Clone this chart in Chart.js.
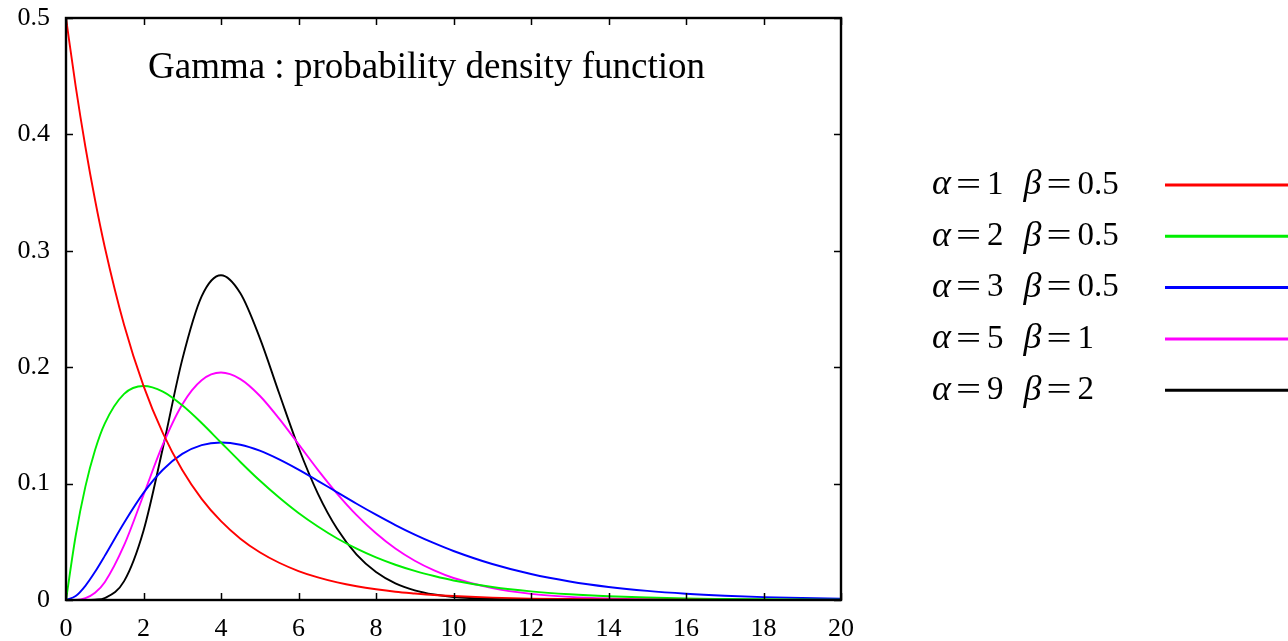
<!DOCTYPE html>
<html>
<head>
<meta charset="utf-8">
<script src="https://cdn.jsdelivr.net/npm/chart.js@4/dist/chart.umd.min.js"></script>
<style>
  html, body { margin: 0; padding: 0; background: #fff; }
  #wrap { width: 1288px; height: 641px; }
</style>
</head>
<body>
<div id="wrap"><canvas id="gammaChart" width="1288" height="641"></canvas></div>
<script>
// values
var xValues = [0, 0.25, 0.5, 0.75, 1, 1.5, 2, 2.5, 3, 3.5, 4, 4.5, 5, 5.5, 6, 6.5, 7, 7.5, 8, 8.5, 9, 9.5, 10,
  11, 12, 13, 14, 15, 16, 17, 18, 19, 20];

var redVals = [0.5, 0.4412, 0.3894, 0.3436, 0.3033, 0.2362, 0.1839, 0.1433, 0.1116, 0.0869, 0.0677, 0.0527, 0.0410,
  0.0320, 0.0249, 0.0194, 0.0151, 0.0118, 0.0092, 0.0071, 0.0056, 0.0043, 0.0034,
  0.0020, 0.0012, 0.0008, 0.0005, 0.0003, 0.0002, 0.0001, 0.0001, 0.0000, 0.0000];
var greenVals = [0, 0.0552, 0.0974, 0.1289, 0.1516, 0.1771, 0.1839, 0.1791, 0.1673, 0.1521, 0.1353, 0.1186, 0.1026,
  0.0880, 0.0747, 0.0631, 0.0528, 0.0441, 0.0366, 0.0303, 0.0250, 0.0206, 0.0168,
  0.0112, 0.0074, 0.0049, 0.0032, 0.0021, 0.0013, 0.0009, 0.0006, 0.0004, 0.0002];
var blueVals = [0, 0.0034, 0.0122, 0.0242, 0.0379, 0.0664, 0.0920, 0.1119, 0.1255, 0.1331, 0.1353, 0.1334, 0.1283,
  0.1208, 0.1120, 0.1024, 0.0925, 0.0827, 0.0733, 0.0644, 0.0562, 0.0488, 0.0421,
  0.0309, 0.0223, 0.0159, 0.0112, 0.0078, 0.0054, 0.0037, 0.0025, 0.0017, 0.0011];
var magentaVals = [0, 0.0001, 0.0016, 0.0062, 0.0153, 0.0471, 0.0902, 0.1336, 0.1680, 0.1888, 0.1954, 0.1898, 0.1755,
  0.1558, 0.1339, 0.1118, 0.0912, 0.0729, 0.0573, 0.0442, 0.0337, 0.0254, 0.0189,
  0.0102, 0.0053, 0.0027, 0.0013, 0.0006, 0.0003, 0.0001, 0.0001, 0, 0];
var blackVals = [0, 0, 0, 0.0003, 0.0017, 0.0162, 0.0595, 0.1306, 0.2065, 0.2608, 0.2790, 0.2635, 0.2252,
  0.1776, 0.1310, 0.0914, 0.0609, 0.0389, 0.0240, 0.0143, 0.0083, 0.0047, 0.0026,
  0.0008, 0.0002, 0.0001, 0, 0, 0, 0, 0, 0, 0];

var seriesLabels = ['α = 1  β = 0.5', 'α = 2  β = 0.5', 'α = 3  β = 0.5', 'α = 5  β = 1', 'α = 9  β = 2'];
var seriesColors = ['#ff0000', '#00ee00', '#0000ff', '#ff00ff', '#000000'];
var seriesVals = [redVals, greenVals, blueVals, magentaVals, blackVals];

var xTicks = [0, 2, 4, 6, 8, 10, 12, 14, 16, 18, 20];
var yTicks = [0, 0.1, 0.2, 0.3, 0.4, 0.5];
var chartTitle = 'Gamma : probability density function';

function toPoints(ys) {
  return ys.map(function (y, i) { return { x: xValues[i], y: y }; });
}

var datasets = seriesVals.map(function (vals, i) {
  return {
    label: seriesLabels[i],
    data: toPoints(vals),
    borderColor: seriesColors[i],
    backgroundColor: seriesColors[i],
    borderWidth: 1.9,
    pointRadius: 0,
    cubicInterpolationMode: 'monotone',
    fill: false
  };
});

var SERIF = '"Liberation Serif", "Times New Roman", serif';

// draws "α = 1  β = 0.5" like a math formula: italic greek, wide equals signs
function drawFormula(ctx, label, x, y) {
  var tokens = label.split(/\s+/);
  tokens.forEach(function (t, k) {
    if (t === 'α' || t === 'β') {
      if (k > 0) x += 20;
      ctx.font = 'italic 36px ' + SERIF;
      ctx.fillText(t, x, y);
      x += ctx.measureText(t).width + 5;
    } else if (t === '=') {
      ctx.font = '33px ' + SERIF;
      var w = ctx.measureText('=').width;
      ctx.save();
      ctx.translate(x, y + 1);
      ctx.scale(1.35, 1);
      ctx.fillText('=', 0, 0);
      ctx.restore();
      x += w * 1.35 + 6;
    } else {
      ctx.font = '33px ' + SERIF;
      ctx.fillText(t, x, y);
      x += ctx.measureText(t).width;
    }
  });
}

// frame, inward ticks, title and legend, gnuplot style
var gnuplotLook = {
  id: 'gnuplotLook',
  afterDraw: function (chart) {
    var ctx = chart.ctx;
    var a = chart.chartArea;
    var xs = chart.scales.x, ys = chart.scales.y;
    ctx.save();
    ctx.strokeStyle = '#000';
    ctx.lineWidth = 1.5;
    ctx.beginPath();
    xTicks.forEach(function (v) {
      var px = Math.round(xs.getPixelForValue(v)) + 0.5;
      ctx.moveTo(px, a.bottom); ctx.lineTo(px, a.bottom - 7);
      ctx.moveTo(px, a.top); ctx.lineTo(px, a.top + 7);
    });
    yTicks.forEach(function (v) {
      var py = Math.round(ys.getPixelForValue(v)) + 0.5;
      ctx.moveTo(a.left, py); ctx.lineTo(a.left + 7, py);
      ctx.moveTo(a.right, py); ctx.lineTo(a.right - 7, py);
    });
    ctx.stroke();
    ctx.lineWidth = 2.4;
    ctx.strokeRect(a.left, a.top, a.right - a.left, a.bottom - a.top);

    // title inside the plot
    ctx.fillStyle = '#000';
    ctx.font = '37px ' + SERIF;
    ctx.textBaseline = 'middle';
    ctx.textAlign = 'left';
    ctx.fillText(chartTitle, 148, 68);

    // legend: text on the left, line sample on the right
    chart.data.datasets.forEach(function (ds, i) {
      var y = 185 + i * 51.3;
      drawFormula(ctx, ds.label, 932, y);
      ctx.strokeStyle = ds.borderColor;
      ctx.lineWidth = 3;
      ctx.beginPath();
      ctx.moveTo(1165, y);
      ctx.lineTo(1288, y);
      ctx.stroke();
    });
    ctx.restore();
  }
};

var ctx = document.getElementById('gammaChart').getContext('2d');
var myChart = new Chart(ctx, {
  type: 'line',
  data: { datasets: datasets },
  options: {
    responsive: false,
    animation: false,
    layout: { padding: { left: 0, right: 447, top: 18, bottom: 0 } },
    plugins: {
      legend: { display: false },
      tooltip: { enabled: false }
    },
    scales: {
      x: {
        type: 'linear',
        min: 0,
        max: 20,
        afterBuildTicks: function (s) { s.ticks = xTicks.map(function (v) { return { value: v }; }); },
        afterFit: function (s) { s.height = 41; s.paddingLeft = 0; s.paddingRight = 0; },
        grid: { display: false },
        border: { display: false },
        ticks: {
          color: '#000',
          font: { family: SERIF, size: 26 },
          padding: 6,
          maxRotation: 0
        }
      },
      y: {
        type: 'linear',
        min: 0,
        max: 0.5,
        afterBuildTicks: function (s) { s.ticks = yTicks.map(function (v) { return { value: v }; }); },
        afterFit: function (s) { s.width = 66; s.paddingTop = 0; s.paddingBottom = 0; },
        grid: { display: false },
        border: { display: false },
        ticks: {
          color: '#000',
          font: { family: SERIF, size: 26 },
          padding: 8,
          callback: function (v) { return v === 0 ? '0' : v.toFixed(1); }
        }
      }
    }
  },
  plugins: [gnuplotLook]
});
</script>
</body>
</html>
